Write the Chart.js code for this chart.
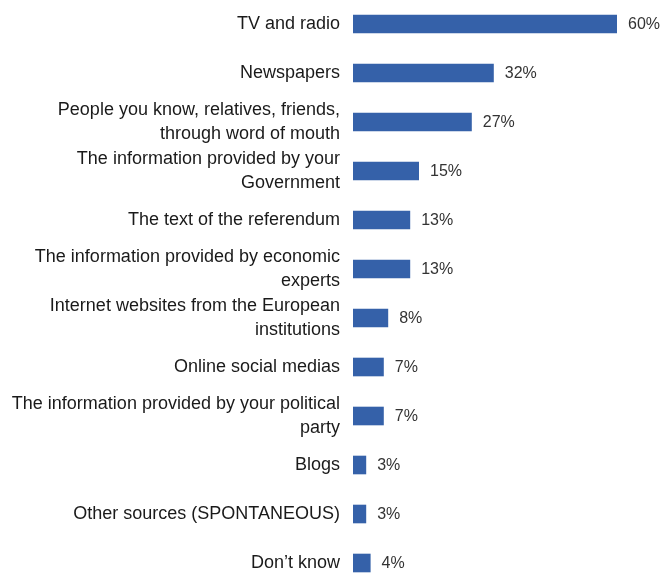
<!DOCTYPE html>
<html>
<head>
<meta charset="utf-8">
<script src="https://cdn.jsdelivr.net/npm/chart.js@4/dist/chart.umd.min.js"></script>
<style>
  html, body { margin: 0; padding: 0; background: #fff; overflow: hidden; }
  #wrap { width: 660px; height: 574px; }
</style>
</head>
<body>
<div id="wrap"><canvas id="chart"></canvas></div>
<script>
// categories (multi-line labels as arrays)
const categories = [
    'TV and radio',
    'Newspapers',
    ['People you know, relatives, friends,', 'through word of mouth'],
    ['The information provided by your', 'Government'],
    'The text of the referendum',
    ['The information provided by economic', 'experts'],
    ['Internet websites from the European', 'institutions'],
    'Online social medias',
    ['The information provided by your political', 'party'],
    'Blogs',
    'Other sources (SPONTANEOUS)',
    'Don\u2019t know'
];
const values = [60, 32, 27, 15, 13, 13, 8, 7, 7, 3, 3, 4];

const FONT = "'Liberation Sans Narrow', 'Arial Narrow', 'Liberation Sans', sans-serif";

// etykiety wartości po prawej stronie słupków
const valueLabels = {
    id: 'valueLabels',
    afterDatasetsDraw(chart) {
        const ctx = chart.ctx;
        const meta = chart.getDatasetMeta(0);
        ctx.save();
        ctx.font = '16px ' + FONT;
        ctx.fillStyle = '#333333';
        ctx.textAlign = 'left';
        ctx.textBaseline = 'middle';
        meta.data.forEach((bar, i) => {
            ctx.fillText(values[i] + '%', bar.x + 11, bar.y + 1);
        });
        ctx.restore();
    }
};

var ctx = document.getElementById('chart').getContext('2d');
var chart = new Chart(ctx, {
    type: 'bar',
    data: {
        labels: categories,
        datasets: [{
            data: values,
            backgroundColor: '#3561a9',
            borderWidth: 0,
            barPercentage: 0.38,
            categoryPercentage: 1,
            clip: false
        }]
    },
    options: {
        indexAxis: 'y',
        responsive: true,
        maintainAspectRatio: false,
        animation: false,
        layout: { padding: { top: 24, bottom: 11, left: 0, right: 43 } },
        scales: {
            x: {
                display: false,
                min: 0,
                max: 60
            },
            y: {
                offset: false,
                grid: { display: false, drawTicks: false, offset: false },
                border: { display: false },
                ticks: {
                    autoSkip: false,
                    padding: 13,
                    color: '#1a1a1a',
                    font: { family: FONT, size: 18, lineHeight: 1.3 }
                },
                afterFit(scale) {
                    scale.width = 353;
                    scale.paddingTop = 0;
                    scale.paddingBottom = 0;
                }
            }
        },
        plugins: {
            legend: { display: false },
            tooltip: { enabled: false }
        }
    },
    plugins: [valueLabels]
});
</script>
</body>
</html>
